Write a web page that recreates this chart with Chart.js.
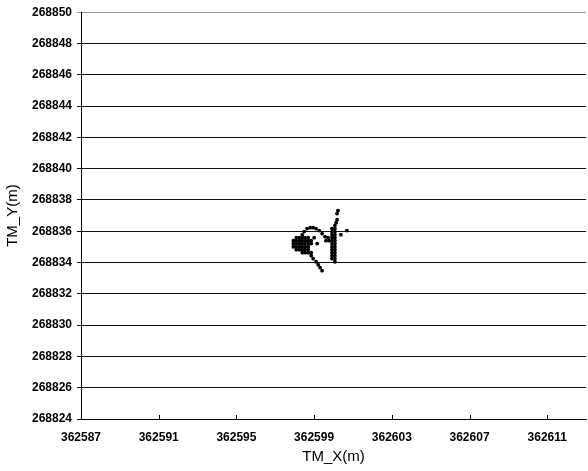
<!DOCTYPE html>
<html>
<head>
<meta charset="utf-8">
<script src="https://cdn.jsdelivr.net/npm/chart.js@4.4.1/dist/chart.umd.min.js"></script>
<style>
    html, body { margin: 0; padding: 0; background: #fff; }
    #wrap { width: 588px; height: 471px; position: relative; }
</style>
</head>
<body>
<div id="wrap"><canvas id="chart" width="588" height="471"></canvas></div>
<script>
// Axis ticks
var xTicks = [362587, 362591, 362595, 362599, 362603, 362607, 362611];
var yTicks = [268824, 268826, 268828, 268830, 268832, 268834, 268836,
              268838, 268840, 268842, 268844, 268846, 268848, 268850];

var xRange = [362587, 362613];
var yRange = [268824, 268850];

// GPS fixes [TM_X, TM_Y]
var fixes = [
    // dense block on the left
    [362598.08, 268835.59], [362598.24, 268835.59], [362598.39, 268835.59], [362598.54, 268835.59], [362598.70, 268835.59],
    [362597.93, 268835.40], [362598.08, 268835.40], [362598.24, 268835.40], [362598.39, 268835.40], [362598.54, 268835.40], [362598.70, 268835.40], [362598.85, 268835.40],
    [362597.93, 268835.21], [362598.08, 268835.21], [362598.24, 268835.21], [362598.39, 268835.21], [362598.54, 268835.21], [362598.70, 268835.21], [362598.85, 268835.21],
    [362597.93, 268835.01], [362598.08, 268835.01], [362598.24, 268835.01], [362598.39, 268835.01], [362598.54, 268835.01], [362598.70, 268835.01],
    [362598.08, 268834.82], [362598.24, 268834.82], [362598.39, 268834.82], [362598.54, 268834.82], [362598.70, 268834.82],
    [362598.39, 268834.63], [362598.54, 268834.63], [362598.70, 268834.63], [362598.85, 268834.63],
    // arc over the top
    [362598.39, 268835.78], [362598.49, 268835.98], [362598.64, 268836.17], [362598.80, 268836.23], [362598.95, 268836.23],
    [362599.10, 268836.17], [362599.26, 268836.04], [362599.41, 268835.85], [362599.56, 268835.65], [362599.72, 268835.59],
    [362599.00, 268835.59], [362599.16, 268835.21],
    // column on the right
    [362599.92, 268836.17], [362599.92, 268835.98], [362599.92, 268835.78], [362599.92, 268835.59], [362599.92, 268835.40],
    [362599.92, 268835.21], [362599.92, 268835.01], [362599.92, 268834.82], [362599.92, 268834.63], [362599.92, 268834.44],
    [362599.92, 268834.25],
    [362600.07, 268836.36], [362600.07, 268836.17], [362600.07, 268835.98], [362600.07, 268835.78], [362600.07, 268835.59],
    [362600.07, 268835.40], [362600.07, 268835.21], [362600.07, 268835.01], [362600.07, 268834.82], [362600.07, 268834.63],
    [362600.07, 268834.44], [362600.07, 268834.25], [362600.07, 268834.05],
    [362599.61, 268835.40], [362599.77, 268835.40],
    // spur to the north and east
    [362600.13, 268836.55], [362600.18, 268836.74], [362600.18, 268837.13], [362600.23, 268837.32],
    [362600.38, 268835.78], [362600.69, 268836.04],
    // tail to the south
    [362598.85, 268834.44], [362598.95, 268834.25], [362599.10, 268834.05], [362599.21, 268833.86],
    [362599.31, 268833.67], [362599.41, 268833.48]
];

var FONT = '"Liberation Sans", Arial, sans-serif';

// short tick marks drawn inward from the x axis
var innerTicks = {
    id: 'innerTicks',
    afterDraw: function(chart) {
        var ctx = chart.ctx;
        var xs = chart.scales.x;
        var bottom = chart.chartArea.bottom;
        ctx.save();
        ctx.strokeStyle = '#000';
        ctx.lineWidth = 1;
        ctx.beginPath();
        xTicks.forEach(function(v) {
            var px = Math.round(xs.getPixelForValue(v)) + 0.5;
            ctx.moveTo(px, bottom);
            ctx.lineTo(px, bottom - 4);
        });
        ctx.stroke();
        ctx.restore();
    }
};

new Chart(document.getElementById('chart'), {
    type: 'scatter',
    data: {
        datasets: [{
            data: fixes.map(function(p) { return { x: p[0], y: p[1] }; }),
            backgroundColor: '#000',
            borderWidth: 0,
            pointRadius: 1.9,
            pointHoverRadius: 1.9
        }]
    },
    options: {
        responsive: false,
        animation: false,
        layout: { padding: { top: 12, left: 0, right: 0, bottom: 0 } },
        plugins: { legend: { display: false }, tooltip: { enabled: false } },
        scales: {
            x: {
                type: 'linear',
                min: xRange[0],
                max: xRange[1],
                afterBuildTicks: function(s) { s.ticks = xTicks.map(function(v) { return { value: v }; }); },
                afterFit: function(s) { s.height = 52; },
                grid: { drawOnChartArea: false, drawTicks: false },
                border: { color: '#000', width: 1 },
                ticks: {
                    padding: 11,
                    color: '#000',
                    font: { family: FONT, size: 12, weight: 'bold' },
                    maxRotation: 0,
                    callback: function(v) { return String(v); }
                },
                title: {
                    display: true,
                    text: 'TM_X(m)',
                    color: '#000',
                    font: { family: FONT, size: 15 },
                    padding: { top: 2, bottom: 5 }
                }
            },
            y: {
                type: 'linear',
                min: yRange[0],
                max: yRange[1],
                afterBuildTicks: function(s) { s.ticks = yTicks.map(function(v) { return { value: v }; }); },
                afterFit: function(s) { s.width = 81; },
                grid: {
                    color: function(c) { return c.tick && c.tick.value === yRange[1] ? '#999' : '#111'; },
                    lineWidth: 1,
                    tickLength: 4
                },
                border: { color: '#000', width: 1 },
                ticks: {
                    padding: 5,
                    color: '#000',
                    font: { family: FONT, size: 12, weight: 'bold' },
                    callback: function(v) { return String(v); }
                },
                title: {
                    display: true,
                    text: 'TM_Y(m)',
                    color: '#000',
                    font: { family: FONT, size: 15 },
                    padding: { top: 4, bottom: 2 }
                }
            }
        }
    },
    plugins: [innerTicks]
});
</script>
</body>
</html>
